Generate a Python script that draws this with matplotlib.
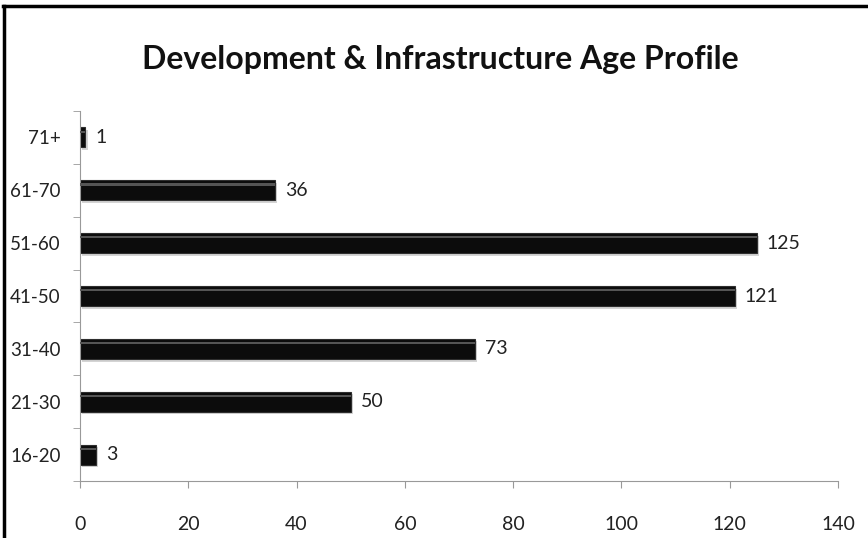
import matplotlib
matplotlib.use('Agg')
import matplotlib.pyplot as plt
from matplotlib.lines import Line2D

ages = ['16-20', '21-30', '31-40', '41-50', '51-60', '61-70', '71+']
counts = [3, 50, 73, 121, 125, 36, 1]
xticks = [0, 20, 40, 60, 80, 100, 120, 140]

font = 'Lato'

fig = plt.figure(figsize=(8.68, 5.38), dpi=100)
ax = fig.add_axes([80/868, 1-481/538, 758/868, 370/538])

pos = list(range(len(ages)))
# shadow, body and a light highlight strip for the glossy look
ax.barh([p - 0.05 for p in pos], counts, height=0.38, left=0.4, color='#d4d4d4', zorder=1)
ax.barh(pos, counts, height=0.38, color='#0c0c0c', edgecolor='#2e2e2e', linewidth=0.8, zorder=2)
ax.barh([p + 0.11 for p in pos], counts, height=0.04, color='#555555', linewidth=0, zorder=3)

for p, v in zip(pos, counts):
    ax.text(v + 1.8, p, str(v), va='center', ha='left', fontsize=14, family=font, color='#222222')

ax.set_xlim(0, 140)
ax.set_ylim(-0.5, len(ages) - 0.5)
ax.set_xticks(xticks)
ax.set_xticklabels([str(t) for t in xticks], fontsize=14, family=font, color='#222222')
ax.set_yticks(pos)
ax.set_yticklabels(ages, fontsize=13.5, family=font, color='#222222')
ax.set_yticks([p + 0.5 for p in range(-1, len(ages))], minor=True)
ax.tick_params(axis='y', which='major', length=0, pad=14)
ax.tick_params(axis='y', which='minor', length=5, color='#999999')
ax.tick_params(axis='x', length=5, color='#999999', pad=20)

for side in ['top', 'right']:
    ax.spines[side].set_visible(False)
for side in ['left', 'bottom']:
    ax.spines[side].set_color('#999999')

fig.text(0.507, 1 - 60/538, 'Development & Infrastructure Age Profile', ha='center', va='center',
         fontsize=23, fontweight='bold', family=font, color='#111111')

# frame around the chart area
fig.add_artist(Line2D([3/868, 1], [1 - 6/538, 1 - 6/538], color='black', linewidth=2.5))
fig.add_artist(Line2D([4/868, 4/868], [0, 1 - 6/538], color='black', linewidth=2.5))

fig.savefig('out.png', dpi=100)
